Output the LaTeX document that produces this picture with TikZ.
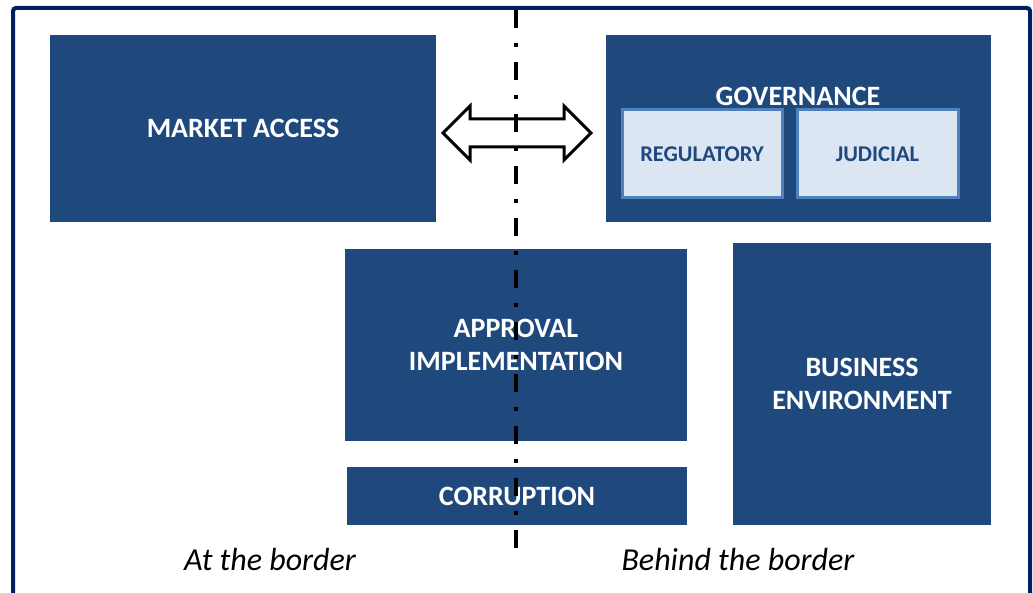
\documentclass[tikz,border=0pt]{standalone}
\usepackage{fontspec}
\setmainfont{Carlito}
\usepackage{xcolor}
\usepackage{tikz}
\usetikzlibrary{positioning}

\definecolor{boxblue}{HTML}{1F497D}
\definecolor{framenavy}{HTML}{002060}
\definecolor{subfill}{HTML}{DCE6F2}
\definecolor{subedge}{HTML}{4F81BD}

\tikzset{
    bigbox/.style={fill=boxblue, draw=none, text=white, align=center,
        inner sep=0pt, font=\fontsize{28}{33.5}\selectfont\bfseries},
    subbox/.style={fill=subfill, draw=subedge, line width=3pt, text=boxblue,
        inner sep=0pt, font=\fontsize{22.5}{26}\selectfont\bfseries},
    sidelabel/.style={font=\fontsize{32}{36}\selectfont\itshape, text=black}
}

\begin{document}
\begin{tikzpicture}[x=1pt, y=-1pt]
    \useasboundingbox (0,0) rectangle (1033,593);
    % Cadre extérieur
    \draw[framenavy, line width=4pt, rounded corners=3pt] (13,8) rectangle (1030,610);

    % Blocs
    \node[bigbox, minimum width=386pt, minimum height=187pt] (market) at (243,128.5) {MARKET ACCESS};
    \node[bigbox, minimum width=385pt, minimum height=187pt] (gov) at (798.5,128.5) {};
    \node[text=white, font=\fontsize{28}{33}\selectfont\bfseries] (govlabel) at (798,96) {GOVERNANCE};
    \node[subbox, minimum width=160pt, minimum height=88pt] (reg) at (702,154) {REGULATORY};
    \node[subbox, minimum width=161pt, minimum height=88pt] (jud) at (877.5,154) {JUDICIAL};
    \node[bigbox, minimum width=342pt, minimum height=192pt] (approval) at (516,345) {APPROVAL\\IMPLEMENTATION};
    \node[bigbox, minimum width=340pt, minimum height=58pt] (corrupt) at (517,496) {CORRUPTION};
    \node[bigbox, minimum width=258pt, minimum height=282pt] (business) at (862,384) {BUSINESS\\ENVIRONMENT};

    % Flèche double entre les deux blocs du haut
    \draw[black, fill=white, line width=3pt, line join=miter]
        (443,133) -- (470,106) -- (470,119) -- (564,119) -- (564,106) -- (591,133)
        -- (564,160) -- (564,147) -- (470,147) -- (470,160) -- cycle;

    % Ligne de frontière
    \coordinate (bordertop) at (516,10);
    \coordinate (borderbot) at (516,552);
    \draw[black, line width=4pt, dash pattern=on 18pt off 15pt on 4pt off 15pt] (bordertop) -- (borderbot);

    % Légendes
    \node[sidelabel] (atborder) at (270,560) {At the border};
    \node[sidelabel] (behind) at (738,560) {Behind the border};
\end{tikzpicture}
\end{document}
